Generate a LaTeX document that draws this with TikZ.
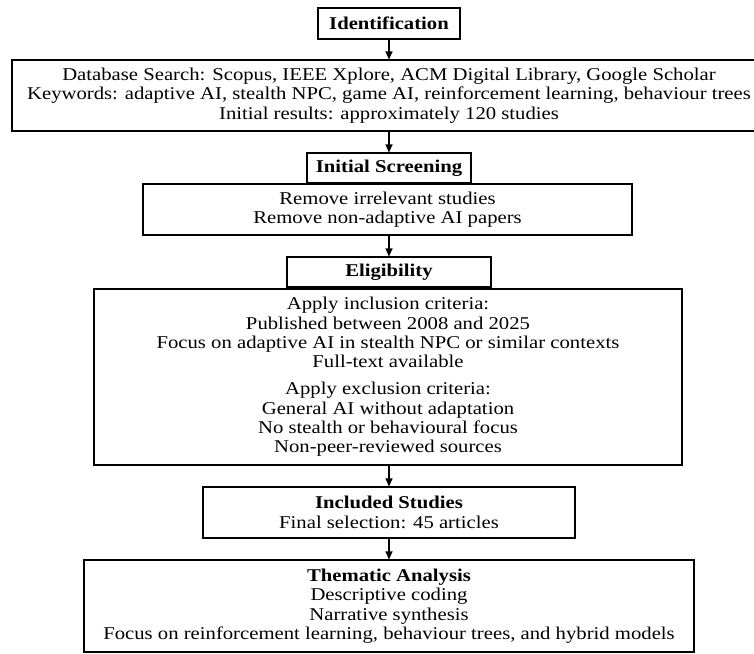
\documentclass[tikz,border=0pt]{standalone}
\usepackage{fontspec}
\setmainfont{Liberation Serif}[FakeStretch=1.15]
\usetikzlibrary{arrows.meta}
\begin{document}
\begin{tikzpicture}[x=1pt,y=-1pt,
  box/.style={draw, line width=1.1pt, inner sep=0pt, align=center,
    font=\fontsize{18}{19.4}\selectfont},
  conn/.style={line width=1.1pt, -{Triangle[length=8pt,width=7pt]}}]
\useasboundingbox (0,0) rectangle (754,653);
\node[box, minimum width=142pt, minimum height=31pt] (ident) at (389,23.5) {\textbf{Identification}};
\node[box, minimum width=754pt, minimum height=71pt] (db) at (389,95.5)
  {Database Search: Scopus, IEEE Xplore, ACM Digital Library, Google Scholar\\
   Keywords: adaptive AI, stealth NPC, game AI, reinforcement learning, behaviour trees\\
   Initial results: approximately 120 studies};
\node[box, minimum width=164pt, minimum height=30pt] (screen) at (389,168) {\textbf{Initial Screening}};
\node[box, minimum width=489pt, minimum height=51pt] (remove) at (387.5,209.5)
  {Remove irrelevant studies\\Remove non-adaptive AI papers};
\node[box, minimum width=204pt, minimum height=30pt] (elig) at (389,272) {\textbf{Eligibility}};
\node[box, minimum width=588pt, minimum height=176pt] (eligbody) at (388,377)
  {Apply inclusion criteria:\\
   Published between 2008 and 2025\\
   Focus on adaptive AI in stealth NPC or similar contexts\\
   Full-text available\\[7.5pt]
   Apply exclusion criteria:\\
   General AI without adaptation\\
   No stealth or behavioural focus\\
   Non-peer-reviewed sources};
\node[box, minimum width=372pt, minimum height=51pt] (incl) at (389,512.5)
  {\textbf{Included Studies}\\Final selection: 45 articles};
\node[box, minimum width=610pt, minimum height=92pt] (them) at (389,606)
  {\textbf{Thematic Analysis}\\Descriptive coding\\Narrative synthesis\\
   Focus on reinforcement learning, behaviour trees, and hybrid models};
\draw[conn] (ident.south) -- (db.north);
\draw[conn] (db.south) -- (screen.north);
\draw[conn] (elig.north |- remove.south) -- (elig.north);
\draw[conn] (incl.north |- eligbody.south) -- (incl.north);
\draw[conn] (incl.south) -- (them.north);
\end{tikzpicture}
\end{document}
